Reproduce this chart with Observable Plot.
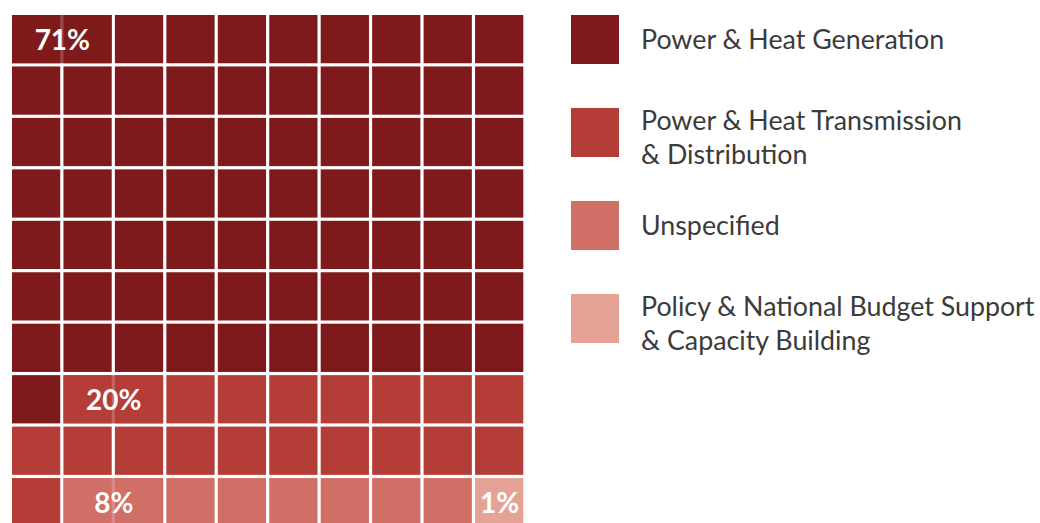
<!DOCTYPE html>
<html>
<head>
<meta charset="utf-8">
<script src="https://cdn.jsdelivr.net/npm/d3@7"></script>
<script src="https://cdn.jsdelivr.net/npm/@observablehq/plot@0.6"></script>
<style>
  html, body { margin: 0; padding: 0; background: #fff; }
  #wrap { position: relative; width: 1040px; height: 523px; overflow: hidden; font-family: Lato, "Open Sans", sans-serif; }
  #chart { position: absolute; left: 0; top: 0; }
  .item { position: absolute; left: 571px; width: 469px; }
  .sw { position: absolute; left: 0; top: 0; width: 48px; height: 49px; }
  .lab { position: absolute; left: 70px; font-size: 26.8px; line-height: 34px; color: #3b3b3b; white-space: pre; }
</style>
</head>
<body>
<div id="wrap"><div id="chart"></div><div id="legend"></div></div>
<script>
const categories = [
  "Power & Heat Generation",
  "Power & Heat Transmission\n& Distribution",
  "Unspecified",
  "Policy & National Budget Support\n& Capacity Building"
];
const counts = [71, 20, 8, 1];
const shareLabels = ["71%", "20%", "8%", "1%"];
const colors = ["#7f1a1c", "#b43d38", "#d06f66", "#e5a396"];

const cols = 10;
const cells = [];
const spots = [];
let idx = 0;
categories.forEach((cat, k) => {
  const start = idx;
  for (let j = 0; j < counts[k]; j++) {
    cells.push({row: Math.floor(idx / cols), col: idx % cols, cat});
    idx++;
  }
  const row = Math.floor(start / cols), col = start % cols;
  const span = (counts[k] >= 2 && col + 1 < cols) ? 2 : 1;
  spots.push({row, col, span, cat, label: shareLabels[k]});
});

const chart = Plot.plot({
  width: 540,
  height: 523,
  margin: 0,
  style: {fontFamily: "Lato, 'Open Sans', sans-serif", background: "transparent"},
  x: {type: "linear", domain: [0, 10], range: [10.4, 524.9], axis: null},
  y: {type: "linear", domain: [0, 10], range: [13.4, 527.9], axis: null},
  color: {domain: categories, range: colors},
  marks: [
    Plot.rect(cells, {x1: "col", x2: d => d.col + 1, y1: "row", y2: d => d.row + 1, fill: "cat", inset: 1.6}),
    Plot.rect(spots.filter(d => d.span === 2), {x1: "col", x2: d => d.col + d.span, y1: "row", y2: d => d.row + 1, fill: "cat", fillOpacity: 0.8, inset: 1.6}),
    Plot.text(spots, {x: d => d.col + d.span / 2, y: d => d.row + 0.5, dy: 1, text: "label", fill: "white", fontSize: 28, fontWeight: 700, textAnchor: "middle", lineAnchor: "middle"})
  ]
});
document.getElementById("chart").appendChild(chart);

const legend = document.getElementById("legend");
categories.forEach((cat, k) => {
  const item = document.createElement("div");
  item.className = "item";
  item.style.top = (15 + 93 * k) + "px";
  const sw = document.createElement("div");
  sw.className = "sw";
  sw.style.background = colors[k];
  const lab = document.createElement("div");
  lab.className = "lab";
  lab.textContent = cat;
  lab.style.top = (cat.includes("\n") ? -5 : 7) + "px";
  item.appendChild(sw);
  item.appendChild(lab);
  legend.appendChild(item);
});
</script>
</body>
</html>
